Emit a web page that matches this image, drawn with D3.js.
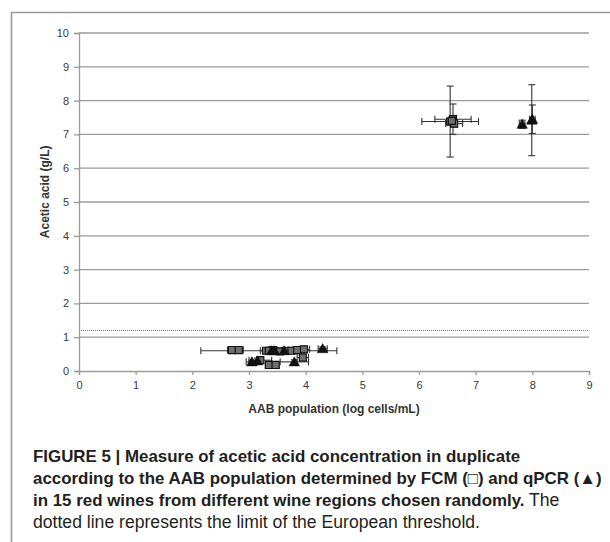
<!DOCTYPE html>
<html><head><meta charset="utf-8">
<script src="https://cdn.jsdelivr.net/npm/d3@7"></script>
<style>
html,body{margin:0;padding:0;background:#fff;}
svg{display:block;}
</style></head>
<body>
<script>
// ---- data ----
const xTicks = [0,1,2,3,4,5,6,7,8,9];
const yTicks = [0,1,2,3,4,5,6,7,8,9,10];
const threshold = 1.2;
// FCM (squares): x, y, x error, y error
const fcmX    = [6.55, 6.60, 6.62, 6.58, 2.70, 2.82, 3.30, 3.42, 3.55, 3.65, 3.75, 3.85, 3.97, 3.20, 3.35, 3.47, 3.95, 3.35];
const fcmY    = [7.38, 7.45, 7.32, 7.40, 0.62, 0.62, 0.60, 0.62, 0.58, 0.60, 0.60, 0.62, 0.64, 0.32, 0.18, 0.18, 0.40, 0.60];
const fcmXErr = [0.50, 0.32, 0.15, 0.08, 0.08, 0.08, 0.10, 0.08, 0.08, 0.08, 0.08, 0.08, 0.10, 0.20, 0.06, 0.06, 0.10, 1.20];
const fcmYErr = [1.05, 0.45, 0.10, 0.10, 0.04, 0.04, 0.05, 0.05, 0.05, 0.05, 0.05, 0.05, 0.08, 0.06, 0.04, 0.04, 0.10, 0.00];
// qPCR (triangles): x, y, x error, y error
const qX    = [7.99, 8.00, 7.82, 4.30, 3.40, 3.62, 3.15, 3.05, 3.80, 3.45];
const qY    = [7.42, 7.45, 7.30, 0.66, 0.60, 0.60, 0.30, 0.27, 0.27, 0.60];
const qXErr = [0.00, 0.05, 0.05, 0.08, 0.10, 0.10, 0.10, 0.10, 0.25, 0.00];
const qYErr = [1.05, 0.42, 0.12, 0.05, 0.05, 0.05, 0.08, 0.05, 0.06, 0.00];

const W = 610, H = 542;
const svg = d3.select("body").append("svg").attr("width", W).attr("height", H);

// figure frame
svg.append("path").attr("d", "M11.5,542 V12.5 H610").attr("fill","none")
  .attr("stroke","#9a9a9a").attr("stroke-width",1.6);

const x = d3.scaleLinear().domain([0,9]).range([79,589]);
const y = d3.scaleLinear().domain([0,10]).range([371,33]);
const gridColor = "#9b9b9b";
const font = "Liberation Sans, Arial, sans-serif";

// gridlines
svg.append("g").selectAll("line").data(yTicks.filter(d=>d>0)).join("line")
  .attr("x1", x(0)).attr("x2", x(9)).attr("y1", d=>y(d)).attr("y2", d=>y(d))
  .attr("stroke", gridColor).attr("stroke-width", 1.3);

// threshold dotted line
svg.append("line").attr("x1", x(0)).attr("x2", x(9)).attr("y1", y(threshold)).attr("y2", y(threshold))
  .attr("stroke", "#777").attr("stroke-width", 1).attr("stroke-dasharray","1,1");

// axes
const yAxis = d3.axisLeft(y).tickValues(yTicks).tickSize(5).tickPadding(5).tickFormat(d3.format("d"));
const gy = svg.append("g").attr("transform", `translate(${x(0)},0)`).call(yAxis);
const xAxis = d3.axisBottom(x).tickValues(xTicks).tickSize(4).tickPadding(6).tickFormat(d3.format("d"));
const gx = svg.append("g").attr("transform", `translate(0,${y(0)})`).call(xAxis);
[gx, gy].forEach(g => {
  g.select(".domain").attr("stroke", gridColor).attr("stroke-width", 1.3);
  g.selectAll(".tick line").attr("stroke", gridColor).attr("stroke-width", 1.3);
  g.selectAll(".tick text").attr("fill", "#3a3a3a").attr("font-family", font)
    .attr("font-size", 11);
});

// axis titles
svg.append("text").attr("x", x(4.5)).attr("y", 413).attr("text-anchor","middle")
  .attr("font-family",font).attr("font-weight","bold")
  .attr("font-size", 12).attr("fill","#333").text("AAB population (log cells/mL)");
svg.append("text").attr("transform", `translate(49,${y(5.3)}) rotate(-90)`).attr("text-anchor","middle")
  .attr("font-family",font).attr("font-weight","bold")
  .attr("font-size", 12).attr("fill","#333").text("Acetic acid (g/L)");

// error bars
function errorBars(xs, ys, xe, ye) {
  const g = svg.append("g").attr("stroke","#333").attr("stroke-width",1.1).attr("fill","none");
  const cap = 3.5;
  xs.forEach((xv, i) => {
    const cx = x(xv), cy = y(ys[i]);
    if (xe[i] > 0) {
      const x1 = x(xv - xe[i]), x2 = x(xv + xe[i]);
      g.append("line").attr("x1",x1).attr("x2",x2).attr("y1",cy).attr("y2",cy);
      g.append("line").attr("x1",x1).attr("x2",x1).attr("y1",cy-cap).attr("y2",cy+cap);
      g.append("line").attr("x1",x2).attr("x2",x2).attr("y1",cy-cap).attr("y2",cy+cap);
    }
    if (ye[i] > 0) {
      const y1 = y(ys[i] - ye[i]), y2 = y(ys[i] + ye[i]);
      g.append("line").attr("x1",cx).attr("x2",cx).attr("y1",y1).attr("y2",y2);
      g.append("line").attr("x1",cx-cap).attr("x2",cx+cap).attr("y1",y1).attr("y2",y1);
      g.append("line").attr("x1",cx-cap).attr("x2",cx+cap).attr("y1",y2).attr("y2",y2);
    }
  });
}
errorBars(fcmX, fcmY, fcmXErr, fcmYErr);
errorBars(qX, qY, qXErr, qYErr);

// markers
const sq = d3.symbol().type(d3.symbolSquare).size(50);
const tri = d3.symbol().type(d3.symbolTriangle).size(48);
svg.append("g").selectAll("path").data(fcmX.map((v,i)=>[v,fcmY[i]])).join("path")
  .attr("d", sq).attr("transform", d=>`translate(${x(d[0])},${y(d[1])})`)
  .attr("fill","#6f6f6f").attr("stroke","#111").attr("stroke-width",1.1);
svg.append("g").selectAll("path").data(qX.map((v,i)=>[v,qY[i]])).join("path")
  .attr("d", tri).attr("transform", d=>`translate(${x(d[0])},${y(d[1])+1})`)
  .attr("fill","#111").attr("stroke","#111").attr("stroke-width",0.5);

// caption
const lines = [
  [["FIGURE 5 | Measure of acetic acid concentration in duplicate", true]],
  [["according to the AAB population determined by FCM (\u25A1) and qPCR (\u25B2)", true]],
  [["in 15 red wines from different wine regions chosen randomly.", true], [" The", false]],
  [["dotted line represents the limit of the European threshold.", false]]
];
lines.forEach((ln, i) => {
  const t = svg.append("text").attr("x", 33).attr("y", 462 + i*22)
    .attr("font-family", font).attr("fill","#231f20");
  ln.forEach(([s,b]) => t.append("tspan").attr("font-weight", b ? "bold" : "normal")
    .attr("font-size", b ? 16.9 : 17.6).text(s));
});
</script>
</body></html>
